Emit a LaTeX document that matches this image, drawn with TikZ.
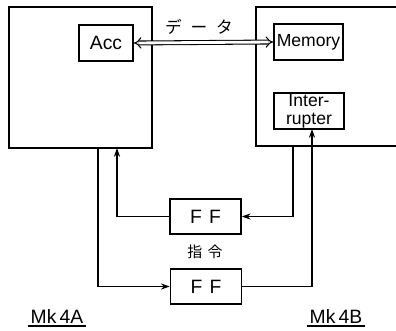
\documentclass[tikz,border=0pt]{standalone}
\usepackage{fontspec}
\setmainfont{Liberation Sans}
\newfontfamily\jpfont{Noto Sans CJK JP}
\usepackage{tikz}
\usetikzlibrary{arrows.meta,positioning}

\begin{document}
\begin{tikzpicture}[
    x=0.02cm, y=-0.02cm,
    unit/.style={draw, line width=1.1pt, inner sep=0pt},
    block/.style={draw, line width=0.9pt, inner sep=0pt, minimum height=0.72cm, font=\fontsize{10}{11}\selectfont},
    ffbox/.style={block, minimum width=1.42cm, minimum height=0.70cm},
    wire/.style={line width=0.6pt},
    sig/.style={wire, -{Stealth[length=5pt,width=3.5pt]}},
    label/.style={font=\fontsize{9.5}{10}\selectfont},
    mklabel/.style={inner sep=1.5pt, font=\fontsize{11}{12}\selectfont},
]
\useasboundingbox (0,0) rectangle (396,331);

% --- Units ---
\node[unit, minimum width=2.86cm, minimum height=2.82cm] (mka) at (80.5,77.5) {};
\draw[unit] (396,7) -- (256,7) -- (256,146) -- (396,146);

% Inner blocks
\node[block, minimum width=1.08cm, font=\fontsize{11}{12}\selectfont] (acc) at (106,43) {Acc};
\node[block, minimum width=1.38cm] (mem) at (308.5,42) {Memory};
\node[block, minimum width=1.40cm, align=center, font=\fontsize{10}{10}\selectfont] (intr) at (309,111) {Inter-\\rupter};

% Data path
\draw[wire, double, double distance=1.6pt, {Implies}-{Implies}] (acc.east) -- (mem.west);
\node[label] (data) at (199,27) {\jpfont デ\hspace{5pt}ー\hspace{5pt}タ};

% --- Flip-flops ---
\node[ffbox, font=\fontsize{11}{12}\selectfont] (ff1) at (205.5,216.5) {F\hspace{4pt}F};
\node[ffbox, font=\fontsize{11}{12}\selectfont] (ff2) at (206,286.5) {F\hspace{4pt}F};
\node[label, font=\jpfont\fontsize{8.5}{9}\selectfont] (cmd) at (205,252) {指\hspace{3pt}令};

% Connection points
\coordinate (a out) at (98,148);
\coordinate (a in) at (117,148);
\coordinate (b out) at (293,146);

% Wires
\draw[sig] (ff1.west) -| (a in);
\draw[sig] (a out) |- (ff2.west);
\draw[sig] (b out) |- (ff1.east);
\draw[sig] (ff2.east) -| (312,129);

% --- Labels ---
\node[mklabel] (la) at (57,316) {Mk\,4A};
\node[mklabel] (lb) at (336,316) {Mk\,4B};
\draw[line width=0.9pt] (la.south west) -- (la.south east);
\draw[line width=0.9pt] (lb.south west) -- (lb.south east);

\end{tikzpicture}
\end{document}
